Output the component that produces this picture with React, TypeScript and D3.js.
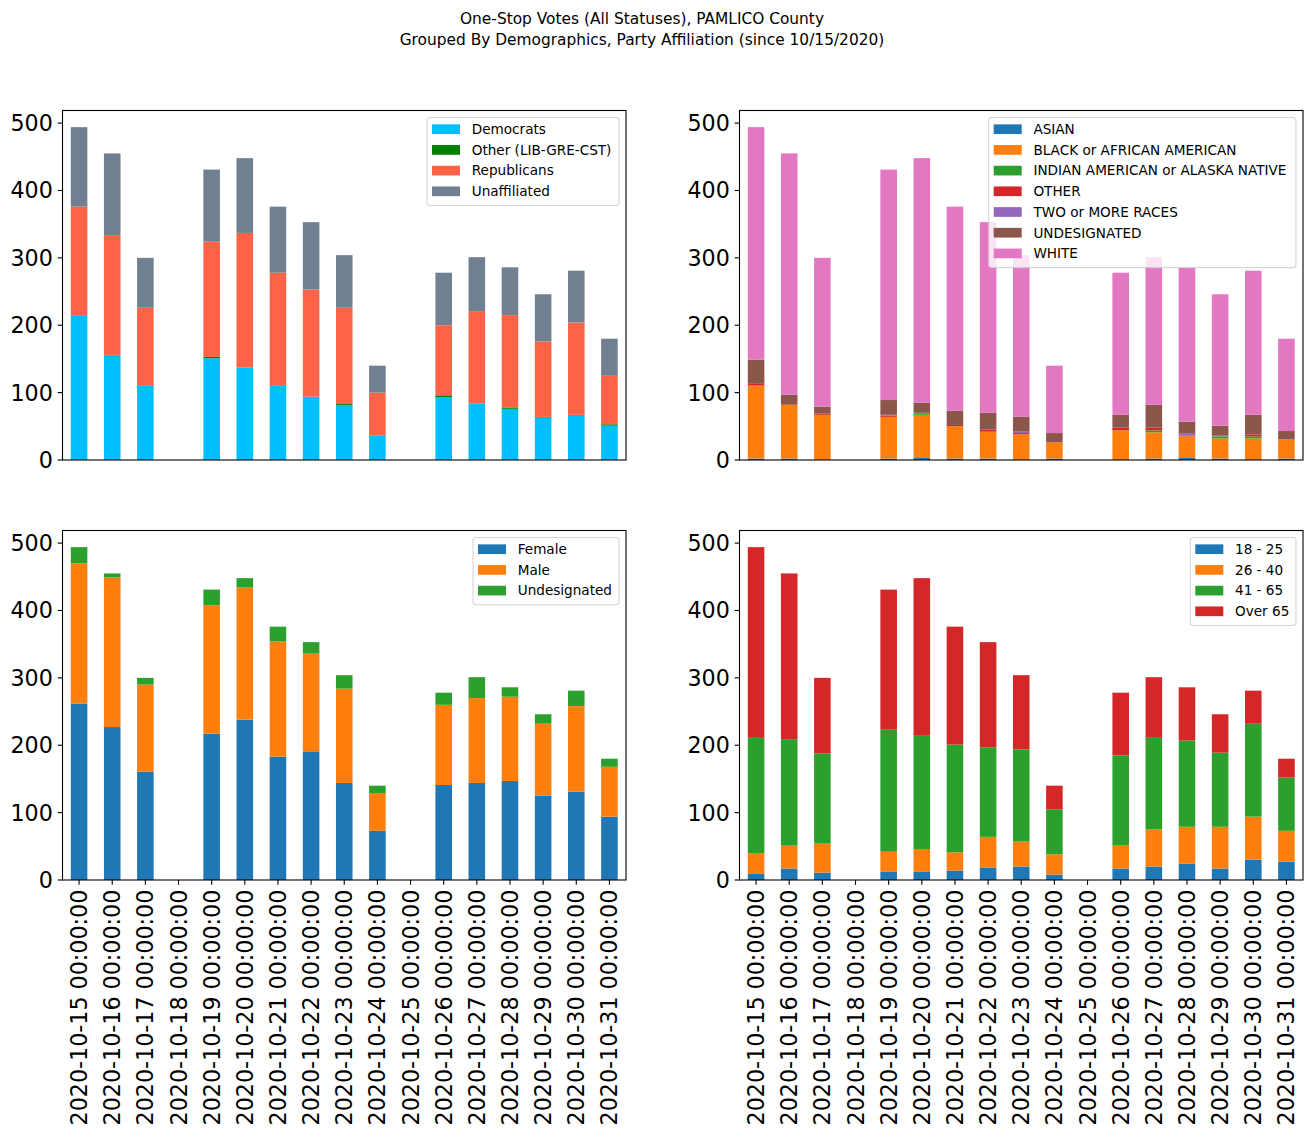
import React from "react";
import * as d3 from "d3";

const dates = [
  "2020-10-15", "2020-10-16", "2020-10-17", "2020-10-18", "2020-10-19", "2020-10-20",
  "2020-10-21", "2020-10-22", "2020-10-23", "2020-10-24", "2020-10-25", "2020-10-26",
  "2020-10-27", "2020-10-28", "2020-10-29", "2020-10-30", "2020-10-31",
];
const dateLabels = dates.map((d) => d + " 00:00:00");

// Party
const partyNames = ["Democrats", "Other (LIB-GRE-CST)", "Republicans", "Unaffiliated"];
const democrats = [215, 156, 110, 0, 151, 137, 110, 94, 81, 36, 0, 93, 84, 76, 63, 66, 51];
const otherParty = [0, 0, 0, 0, 2, 0, 0, 0, 2, 0, 0, 3, 0, 2, 1, 1, 2];
const republicans = [161, 178, 116, 0, 171, 200, 168, 159, 143, 64, 0, 104, 137, 137, 112, 137, 72];
const unaffiliated = [118, 121, 74, 0, 107, 111, 98, 100, 78, 40, 0, 78, 80, 71, 70, 77, 55];

// Race
const raceNames = [
  "ASIAN", "BLACK or AFRICAN AMERICAN", "INDIAN AMERICAN or ALASKA NATIVE", "OTHER",
  "TWO or MORE RACES", "UNDESIGNATED", "WHITE",
];
const asian = [2, 2, 0, 0, 2, 3, 2, 2, 0, 2, 0, 0, 2, 3, 2, 0, 2];
const black = [108, 80, 67, 0, 62, 64, 48, 40, 38, 24, 0, 44, 39, 32, 30, 32, 28];
const indian = [1, 0, 0, 0, 0, 2, 0, 0, 0, 0, 0, 0, 3, 0, 3, 3, 0];
const otherRace = [2, 0, 2, 0, 2, 1, 2, 3, 2, 0, 0, 4, 4, 1, 0, 3, 0];
const twoOrMore = [0, 0, 0, 0, 1, 0, 0, 0, 2, 0, 0, 0, 0, 3, 1, 0, 1];
const undesRace = [36, 15, 10, 0, 22, 15, 21, 25, 22, 14, 0, 19, 34, 18, 15, 29, 12];
const white = [345, 358, 221, 0, 342, 363, 303, 283, 240, 100, 0, 211, 219, 229, 195, 214, 137];

// Gender
const genderNames = ["Female", "Male", "Undesignated"];
const female = [262, 227, 161, 0, 217, 238, 183, 191, 144, 73, 0, 141, 144, 147, 125, 131, 94];
const male = [208, 222, 129, 0, 191, 196, 171, 145, 140, 56, 0, 119, 126, 125, 107, 127, 74];
const undesGender = [24, 6, 10, 0, 23, 14, 22, 17, 20, 11, 0, 18, 31, 14, 14, 23, 12];

// Age
const ageNames = ["18 - 25", "26 - 40", "41 - 65", "Over 65"];
const age18 = [9, 17, 11, 0, 12, 12, 14, 18, 20, 8, 0, 17, 20, 24, 17, 30, 27];
const age26 = [31, 34, 43, 0, 30, 34, 27, 46, 37, 30, 0, 35, 55, 55, 62, 64, 46];
const age41 = [171, 158, 134, 0, 181, 168, 160, 133, 137, 67, 0, 133, 136, 128, 110, 138, 79];
const age65 = [283, 246, 112, 0, 208, 234, 175, 156, 110, 35, 0, 93, 90, 79, 57, 49, 28];

const yTicks = [0, 100, 200, 300, 400, 500];

const FONT = "DejaVu Sans";
const tab10 = ["#1f77b4", "#ff7f0e", "#2ca02c", "#d62728", "#9467bd", "#8c564b", "#e377c2"];

type PanelProps = {
  x0: number;
  y0: number;
  names: string[];
  series: number[][];
  colors: string[];
  legendWidth: number;
  showX: boolean;
};

const AX_W = 563.5;
const AX_H = 349.5;
const TICK = 4.86;
const PAD = 4.86;

function Panel({ x0, y0, names, series, colors, legendWidth, showX }: PanelProps) {
  const rows = dates.map((d, i) => {
    const r: any = { date: d };
    names.forEach((n, k) => (r[n] = series[k][i]));
    return r;
  });
  const stack = d3.stack<any>().keys(names)(rows);
  const totals = dates.map((_, i) => d3.sum(series, (s) => s[i]));
  const ymax = (d3.max(totals) as number) * 1.05;

  const x = d3.scaleBand<string>().domain(dates).range([0, AX_W]).paddingInner(0.5).paddingOuter(0.25);
  const y = d3.scaleLinear().domain([0, ymax]).range([AX_H, 0]);

  const rowH = 20.7;
  const lh = names.length * rowH + 5.2;
  const lx = AX_W - 7 - legendWidth;
  const ly = 7;

  return (
    <g transform={`translate(${x0},${y0})`}>
      {stack.map((layer, k) => (
        <g key={names[k]} fill={colors[k]}>
          {layer.map((d, i) => {
            const h = y(d[0]) - y(d[1]);
            if (h <= 0) return null;
            return (
              <rect key={i} x={x(dates[i])} y={y(d[1])} width={x.bandwidth()} height={h} />
            );
          })}
        </g>
      ))}
      {/* y axis */}
      {yTicks.map((t) => (
        <g key={t} transform={`translate(0,${y(t)})`}>
          <line x1={-TICK} x2={0} stroke="#000" strokeWidth={1.1} />
          <text
            x={-TICK - PAD}
            dy="0.36em"
            textAnchor="end"
            fontFamily={FONT}
            fontSize={22.2}
            fill="#000"
          >
            {t}
          </text>
        </g>
      ))}
      {showX &&
        dates.map((d, i) => {
          const cx = (x(d) as number) + x.bandwidth() / 2;
          return (
            <g key={d}>
              <line x1={cx} x2={cx} y1={AX_H} y2={AX_H + TICK} stroke="#000" strokeWidth={1.1} />
              <text
                transform={`translate(${cx},${AX_H + TICK + PAD}) rotate(-90)`}
                textAnchor="end"
                dy="0.36em"
                fontFamily={FONT}
                fontSize={22.2}
                fill="#000"
              >
                {dateLabels[i]}
              </text>
            </g>
          );
        })}
      <rect x={0} y={0} width={AX_W} height={AX_H} fill="none" stroke="#000" strokeWidth={1.1} />
      {/* legend */}
      <g transform={`translate(${lx},${ly})`}>
        <rect
          x={0}
          y={0}
          width={legendWidth}
          height={lh}
          rx={3}
          fill="#fff"
          fillOpacity={0.8}
          stroke="#cccccc"
          strokeOpacity={0.8}
          strokeWidth={1.1}
        />
        {names.map((n, k) => {
          const cy = 11.7 + k * rowH;
          return (
            <g key={n}>
              <rect x={5} y={cy - 4.85} width={28} height={9.7} fill={colors[k]} />
              <text x={44.7} y={cy} dy="0.36em" fontFamily={FONT} fontSize={13.6} fill="#000">
                {n}
              </text>
            </g>
          );
        })}
      </g>
    </g>
  );
}

export default function App() {
  const L1 = 62.5;
  const L2 = 739.5;
  const T1 = 110.5;
  const T2 = 530.5;
  return (
    <svg
      width={1312}
      height={1137}
      style={{ position: "absolute", left: 0, top: 0, background: "#fff" }}
      xmlns="http://www.w3.org/2000/svg"
    >
      <rect x={0} y={0} width={1312} height={1137} fill="#fff" />
      <text x={642} y={24} textAnchor="middle" fontFamily={FONT} fontSize={15.4} fill="#000">
        One-Stop Votes (All Statuses), PAMLICO County
      </text>
      <text x={642} y={44.5} textAnchor="middle" fontFamily={FONT} fontSize={15.4} fill="#000">
        Grouped By Demographics, Party Affiliation (since 10/15/2020)
      </text>
      <Panel
        x0={L1}
        y0={T1}
        names={partyNames}
        series={[democrats, otherParty, republicans, unaffiliated]}
        colors={["#00bfff", "#008000", "#ff6347", "#708090"]}
        legendWidth={192}
        showX={false}
      />
      <Panel
        x0={L2}
        y0={T1}
        names={raceNames}
        series={[asian, black, indian, otherRace, twoOrMore, undesRace, white]}
        colors={tab10}
        legendWidth={307.3}
        showX={false}
      />
      <Panel
        x0={L1}
        y0={T2}
        names={genderNames}
        series={[female, male, undesGender]}
        colors={tab10.slice(0, 3)}
        legendWidth={146}
        showX={true}
      />
      <Panel
        x0={L2}
        y0={T2}
        names={ageNames}
        series={[age18, age26, age41, age65]}
        colors={tab10.slice(0, 4)}
        legendWidth={105.7}
        showX={true}
      />
    </svg>
  );
}
